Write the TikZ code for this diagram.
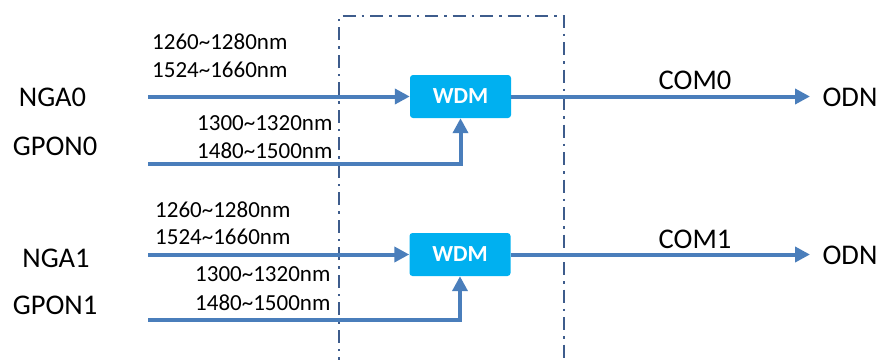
\documentclass[tikz,border=0pt]{standalone}
\usepackage{fontspec}
\setmainfont{Carlito}
\usetikzlibrary{arrows.meta}
\definecolor{linecol}{RGB}{74,126,187}
\definecolor{framecol}{RGB}{62,92,140}
\definecolor{wdmcol}{RGB}{0,176,240}
\begin{document}
\begin{tikzpicture}[x=1pt,y=-1pt,
  lbl/.style={inner sep=0pt,font=\fontsize{28.5}{30}\selectfont},
  wl/.style={inner sep=0pt,font=\fontsize{23}{24}\selectfont},
  wdm/.style={fill=wdmcol,rounded corners=3pt,minimum width=101pt,minimum height=43pt,inner sep=0pt,text=white,font=\fontsize{23}{24}\bfseries\selectfont},
  sig/.style={draw=linecol,line width=4pt,-{Triangle[length=15pt,width=15pt]}},
  frame/.style={draw=framecol,line width=2.8pt,dash pattern=on 13pt off 6pt on 2.5pt off 6pt}
]
\useasboundingbox (0,0) rectangle (878,359);
% frame
\coordinate (fbl) at (339,370);
\coordinate (ftl) at (339,16);
\coordinate (ftr) at (564,16);
\coordinate (fbr) at (564,370);
\draw[frame] (fbl) -- (ftl) -- (ftr) -- (fbr);

% WDM boxes
\node[wdm] (w0) at (460.5,96.5) {WDM};
\node[wdm] (w1) at (460,254.5) {WDM};

% left labels
\node[lbl] (nga0) at (52.5,97) {NGA0};
\node[lbl] (gpon0) at (55,146) {GPON0};
\node[lbl] (nga1) at (56,258) {NGA1};
\node[lbl] (gpon1) at (55,305) {GPON1};

% wavelengths
\node[wl,anchor=west] (a0) at (152,42) {1260\textasciitilde1280nm};
\node[wl,anchor=west] (b0) at (152,70) {1524\textasciitilde1660nm};
\node[wl,anchor=west] (c0) at (197,123) {1300\textasciitilde1320nm};
\node[wl,anchor=west] (d0) at (197,150.5) {1480\textasciitilde1500nm};
\node[wl,anchor=west] (a1) at (155,210) {1260\textasciitilde1280nm};
\node[wl,anchor=west] (b1) at (155,237) {1524\textasciitilde1660nm};
\node[wl,anchor=west] (c1) at (195,274.5) {1300\textasciitilde1320nm};
\node[wl,anchor=west] (d1) at (195,303) {1480\textasciitilde1500nm};

% right labels
\node[lbl] (com0) at (695,80) {COM0};
\node[lbl] (odn0) at (850,97) {ODN};
\node[lbl] (com1) at (695,239) {COM1};
\node[lbl] (odn1) at (850,255) {ODN};

% coordinates for line starts/ends
\coordinate (s0) at (148,96.5);
\coordinate (g0) at (148,164);
\coordinate (s1) at (148,254.5);
\coordinate (g1) at (148,319.5);
\coordinate (e0) at (810,96.5);
\coordinate (e1) at (810,254.5);

\draw[sig] (s0) -- (w0.west);
\draw[sig] (g0) -| (w0.south);
\draw[sig] (w0.east) -- (e0);
\draw[sig] (s1) -- (w1.west);
\draw[sig] (g1) -| (w1.south);
\draw[sig] (w1.east) -- (e1);
\end{tikzpicture}
\end{document}
